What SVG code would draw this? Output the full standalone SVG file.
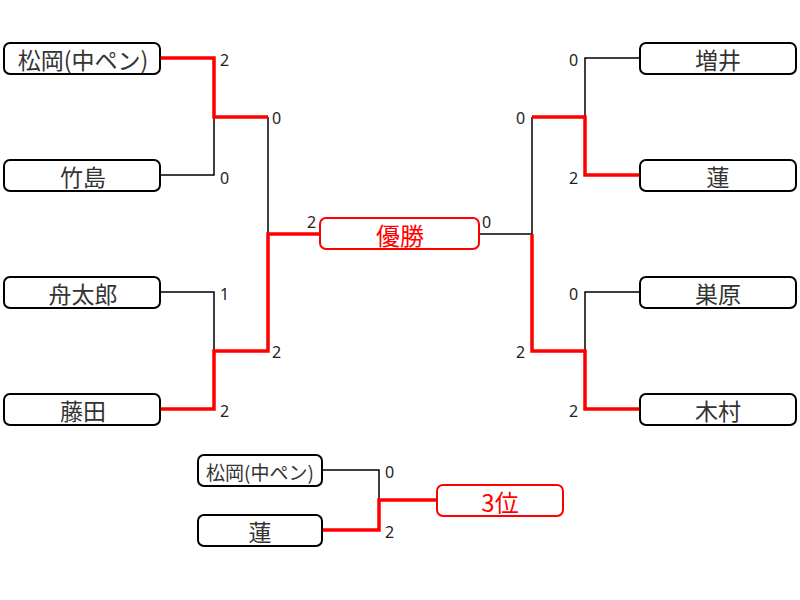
<svg xmlns="http://www.w3.org/2000/svg" width="800" height="600" viewBox="0 0 800 600">
<style>
.box{fill:#fff;stroke:#000;stroke-width:2}
.win{fill:#fff;stroke:#f00;stroke-width:2}
.nm{font-family:"Noto Sans CJK JP","Noto Sans",sans-serif;font-size:23px;fill:#333;text-anchor:middle;dominant-baseline:central}
.wt{font-family:"Noto Sans CJK JP","Noto Sans",sans-serif;font-size:24px;fill:#f00;text-anchor:middle;dominant-baseline:central}
.sc{font-family:"Noto Sans","DejaVu Sans",sans-serif;font-size:16px;fill:#222}
.l{fill:none;stroke:#000;stroke-width:1.5}
.r{fill:none;stroke:#f00;stroke-width:3.5}
</style>
<rect width="800" height="600" fill="#fff"/>
<g id="connectors">
<polyline class="l" points="160,175 214,175 214,117"/>
<polyline class="l" points="160,292 214,292 214,351"/>
<polyline class="l" points="268,117 268,234"/>
<polyline class="l" points="640,58 585,58 585,117"/>
<polyline class="l" points="640,292 585,292 585,351"/>
<polyline class="l" points="532,117 532,234"/>
<polyline class="l" points="479,234 532,234"/>
<polyline class="l" points="322,470 379,470 379,500"/>
<polyline class="r" points="160,58 214,58 214,117 268,117"/>
<polyline class="r" points="160,409 214,409 214,351 268,351 268,234 320,234"/>
<polyline class="r" points="640,175 585,175 585,117 532,117"/>
<polyline class="r" points="640,409 585,409 585,351 532,351 532,234"/>
<polyline class="r" points="322,530 379,530 379,500 437,500"/>
<text class="sc" x="220" y="66">2</text>
<text class="sc" x="220" y="184">0</text>
<text class="sc" x="220" y="300">1</text>
<text class="sc" x="220" y="417">2</text>
<text class="sc" x="272" y="124">0</text>
<text class="sc" x="272" y="358">2</text>
<text class="sc" x="307" y="228">2</text>
<text class="sc" x="482" y="228">0</text>
<text class="sc" x="569" y="66">0</text>
<text class="sc" x="569" y="184">2</text>
<text class="sc" x="569" y="300">0</text>
<text class="sc" x="569" y="417">2</text>
<text class="sc" x="516" y="124">0</text>
<text class="sc" x="516" y="358">2</text>
<text class="sc" x="385" y="478">0</text>
<text class="sc" x="385" y="538">2</text>
</g>
<g id="n1"><rect class="box" x="4" y="43" width="156" height="31" rx="6"/><text class="nm" x="83" y="59">松岡(中ペン)</text></g>
<g id="n2"><rect class="box" x="4" y="160" width="156" height="31" rx="6"/><text class="nm" x="83" y="176">竹島</text></g>
<g id="n3"><rect class="box" x="4" y="277" width="156" height="31" rx="6"/><text class="nm" x="83" y="293">舟太郎</text></g>
<g id="n4"><rect class="box" x="4" y="394" width="156" height="31" rx="6"/><text class="nm" x="83" y="410">藤田</text></g>
<g id="n5"><rect class="box" x="640" y="43" width="156" height="31" rx="6"/><text class="nm" x="718" y="59">増井</text></g>
<g id="n6"><rect class="box" x="640" y="160" width="156" height="31" rx="6"/><text class="nm" x="718" y="176">蓮</text></g>
<g id="n7"><rect class="box" x="640" y="277" width="156" height="31" rx="6"/><text class="nm" x="718" y="293">巣原</text></g>
<g id="n8"><rect class="box" x="640" y="394" width="156" height="31" rx="6"/><text class="nm" x="718" y="410">木村</text></g>
<g id="champion"><rect class="win" x="320" y="218" width="159" height="31" rx="6"/><text class="wt" x="400" y="234">優勝</text></g>
<g id="n9"><rect class="box" x="198" y="455" width="124" height="31" rx="6"/><text class="nm" x="260" y="471" style="font-size:19px">松岡(中ペン)</text></g>
<g id="n10"><rect class="box" x="198" y="515" width="124" height="31" rx="6"/><text class="nm" x="260" y="531">蓮</text></g>
<g id="third"><rect class="win" x="437" y="485" width="126" height="31" rx="6"/><text class="wt" x="500" y="501">3位</text></g>
</svg>
